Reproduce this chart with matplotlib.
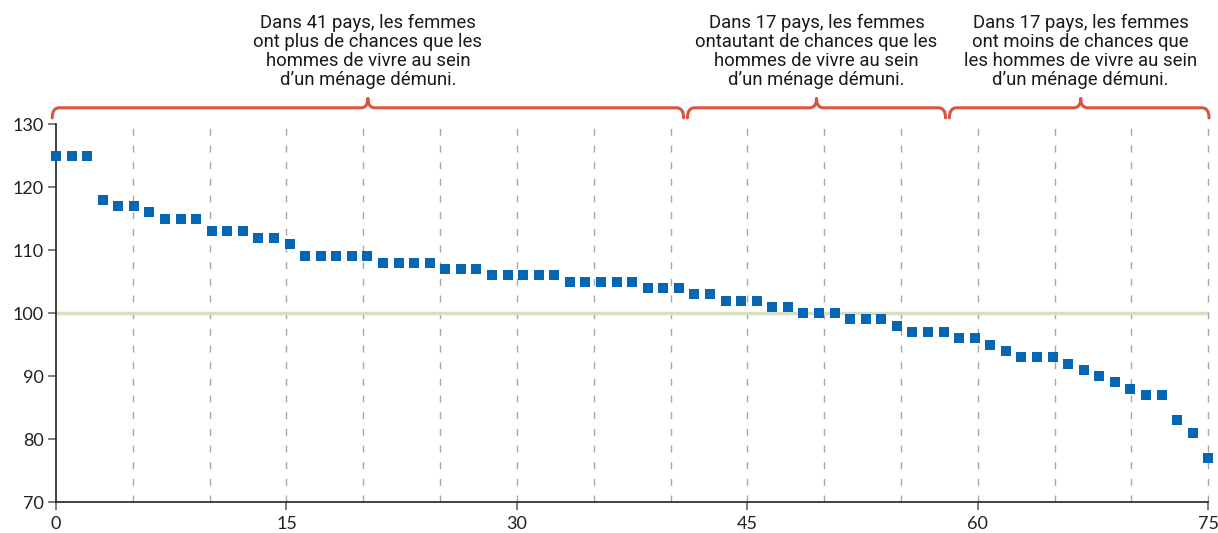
import numpy as np
import matplotlib.pyplot as plt
from matplotlib.path import Path
from matplotlib.patches import PathPatch

# ratio values, one per country, sorted descending
values = [125, 125, 125, 118, 117, 117, 116, 115, 115, 115,
          113, 113, 113, 112, 112, 111, 109, 109, 109, 109,
          109, 108, 108, 108, 108, 107, 107, 107, 106, 106,
          106, 106, 106, 105, 105, 105, 105, 105, 104, 104,
          104, 103, 103, 102, 102, 102, 101, 101, 100, 100,
          100, 99, 99, 99, 98, 97, 97, 97, 96, 96,
          95, 94, 93, 93, 93, 92, 91, 90, 89, 88,
          87, 87, 83, 81, 77]
x_ticks = [0, 15, 30, 45, 60, 75]
y_ticks = [70, 80, 90, 100, 110, 120, 130]
grid_x = [5, 10, 15, 20, 25, 30, 35, 40, 45, 50, 55, 60, 65, 70, 75]

# groups: (start, end, tip, label)
groups = [
    (-0.25, 40.85, 20.3, "Dans 41 pays, les femmes\nont plus de chances que les\nhommes de vivre au sein\nd\u2019un ménage démuni."),
    (41.1, 57.9, 49.5, "Dans 17 pays, les femmes\nontautant de chances que les\nhommes de vivre au sein\nd\u2019un ménage démuni."),
    (58.15, 75.05, 66.7, "Dans 17 pays, les femmes\nont moins de chances que\nles hommes de vivre au sein\nd\u2019un ménage démuni."),
]

BLUE = "#0567b3"
RED = "#d9553f"

fig = plt.figure(figsize=(12.18, 5.33), dpi=100)
ax = fig.add_axes([0.046, 0.058, 0.946, 0.709])

xs = np.linspace(0, 75, len(values))

for g in grid_x:
    ax.plot([g, g], [70, 130.8], color="#a8a8a8", lw=1.0,
            linestyle=(0, (5, 7)), zorder=1, clip_on=False)
ax.axhline(100, color="#d6dfc0", lw=2.5, zorder=1)
ax.plot(xs, values, "s", color=BLUE, ms=6.6, mew=0, zorder=3, clip_on=False)

ax.set_xlim(0, 75)
ax.set_ylim(70, 130)
ax.set_xticks(x_ticks)
ax.set_yticks(y_ticks)
for s in ["top", "right"]:
    ax.spines[s].set_visible(False)
for s in ["left", "bottom"]:
    ax.spines[s].set_color("#222222")
    ax.spines[s].set_linewidth(1.2)
ax.tick_params(axis="both", length=6, width=1.2, color="#666666",
               labelsize=13, labelcolor="#222222")
ax.tick_params(axis="x", pad=4)
ax.tick_params(axis="y", pad=3)
for lab in ax.get_xticklabels() + ax.get_yticklabels():
    lab.set_family("Lato")


def brace(x0, x1, xm, ylow=131.0, ymid=132.6, ytip=134.1, rx=0.45):
    verts = [(x0, ylow), (x0, ymid), (x0 + rx, ymid),
             (xm - rx, ymid), (xm, ymid), (xm, ytip),
             (xm, ymid), (xm + rx, ymid),
             (x1 - rx, ymid), (x1, ymid), (x1, ylow)]
    codes = [Path.MOVETO, Path.CURVE3, Path.CURVE3,
             Path.LINETO, Path.CURVE3, Path.CURVE3,
             Path.CURVE3, Path.CURVE3,
             Path.LINETO, Path.CURVE3, Path.CURVE3]
    p = PathPatch(Path(verts, codes), facecolor="none", edgecolor=RED,
                  lw=2.2, clip_on=False, capstyle="round", joinstyle="round")
    ax.add_patch(p)


for x0, x1, xm, label in groups:
    brace(x0, x1, xm)
    ax.text(xm, 135.6, label, ha="center", va="bottom", fontsize=13.3,
            family="Roboto", color="#1a1a1a", linespacing=1.08, clip_on=False)

fig.savefig("out.png", dpi=100)
